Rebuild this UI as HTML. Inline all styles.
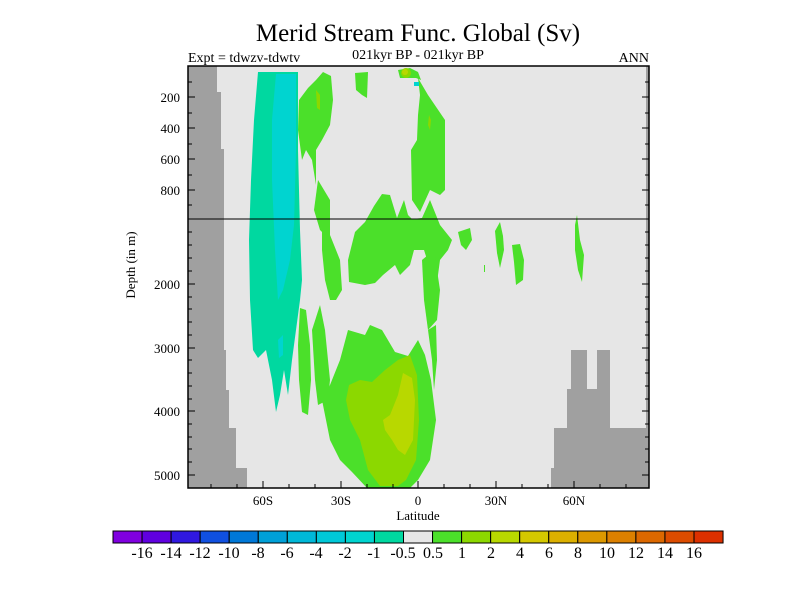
<!DOCTYPE html>
<html><head><meta charset="utf-8"><style>
html,body{margin:0;padding:0;background:#fff;}
svg{display:block;font-family:"Liberation Serif",serif;}
</style></head><body>
<svg width="800" height="600" viewBox="0 0 800 600" xmlns="http://www.w3.org/2000/svg">
<rect width="800" height="600" fill="#fff"/>
<text x="418" y="41" font-size="25" text-anchor="middle">Merid Stream Func. Global (Sv)</text>
<text x="188" y="62" font-size="14">Expt = tdwzv-tdwtv</text>
<text x="418" y="59" font-size="14" text-anchor="middle">021kyr BP - 021kyr BP</text>
<text x="649" y="62" font-size="14" text-anchor="end">ANN</text>
<rect x="188" y="66" width="461" height="422" fill="#e6e6e6"/>
<polygon fill="#a0a0a0" points="188,66 217,66 217,92 221,92 221,149 224,149 224,350 226,350 226,390 229,390 229,428 236,428 236,468 247,468 247,488 188,488"/>
<polygon fill="#a0a0a0" points="551,488 551,468 554,468 554,428 567,428 567,389 571,389 571,350 587,350 587,389 597,389 597,350 610,350 610,428 646,428 646,66 649,66 649,488"/>
<polygon fill="#00d8a0" points="258,72 298,72 298,150 300,230 302,280 300,300 296,330 292,360 288,395 284,370 280,395 276,412 272,380 266,350 258,358 253,350 250,300 249,240 251,180 254,120"/>
<polygon fill="#00d4d0" points="276,74 296,74 296,150 294,225 290,260 283,290 278,300 275,250 272,180 272,120"/>
<polygon fill="#00d4d0" points="278,340 283,335 283,355 279,358"/>
<g fill="#4be02a">
<polygon points="323,72 331,76 333,100 330,125 322,140 316,150 316,185 312,160 306,150 302,160 298,130 299,100 308,88 316,80"/>
<polygon points="355,73 368,72 367,98 362,95 356,90"/>
<polygon points="398,70 410,68 418,72 421,80 416,78 408,78 400,78"/>
<polygon points="418,78 428,95 445,120 445,190 440,195 430,190 420,212 412,200 411,150 417,140 418,115 420,95"/>
<polygon points="355,232 365,222 374,206 382,194 390,195 397,218 404,200 408,215 412,219 422,218 430,200 440,225 452,240 448,250 440,260 436,290 432,275 424,250 414,250 410,265 400,275 395,265 383,275 375,283 365,285 349,282 348,260"/>
<polygon points="422,260 434,250 440,290 437,320 428,330 424,300"/>
<polygon points="318,180 330,200 330,240 320,230 314,210"/>
<polygon points="322,215 326,210 330,235 340,260 342,290 336,300 330,300 325,280 322,250"/>
<polygon points="458,232 470,228 472,240 466,250 461,245"/>
<polygon points="495,231 500,222 503,236 504,250 500,268 497,253"/>
<polygon points="512,245 520,244 524,260 523,280 516,285 514,262"/>
<polygon points="575,225 577,215 580,240 584,255 582,282 578,270 575,250"/>
<polygon points="484,265 485,265 485,272 484,272"/>
<polygon points="300,308 306,310 310,345 311,380 308,415 302,412 299,380 298,345"/>
<polygon points="312,330 320,305 325,330 330,380 328,400 318,405 315,380"/>
<polygon points="348,330 365,335 370,325 382,330 395,352 408,356 418,340 425,355 431,380 436,420 430,460 418,480 410,488 367,488 352,472 340,460 330,440 326,420 322,400 330,385 340,360"/>
<polygon points="428,330 436,325 437,360 434,390 432,360"/>
</g>
<g fill="#8cd800">
<polygon points="349,385 360,380 372,382 385,370 398,360 410,355 417,375 419,420 416,460 406,480 398,486 380,486 368,470 360,440 350,420 346,400"/>
<circle cx="406" cy="73" r="5"/>
<polygon points="316,90 320,95 320,110 317,108"/>
<polygon points="429,115 431,120 430,130 428,125"/>
</g>
<g fill="#b8d800">
<polygon points="403,373 412,378 415,400 413,440 405,455 398,450 392,440 385,430 383,420 390,415 398,395"/>
<circle cx="405" cy="72" r="3"/>
</g>
<rect x="414" y="82" width="5" height="4" fill="#00d4d0"/>
<line x1="188" y1="219" x2="649" y2="219" stroke="#000" stroke-width="1"/>
<rect x="188" y="66" width="461" height="422" fill="none" stroke="#000" stroke-width="1.5"/>
<g stroke="#000" stroke-width="1">
<path d="M263,488v-7M341,488v-7M418,488v-7M496,488v-7M574,488v-7"/>
<path d="M211,488v-4M237,488v-4M289,488v-4M315,488v-4M367,488v-4M393,488v-4M444,488v-4M470,488v-4M522,488v-4M548,488v-4M600,488v-4M626,488v-4"/>
<path d="M188,97h7M188,128h7M188,159h7M188,190h7M188,219h7M188,284h7M188,348h7M188,411h7M188,475h7"/>
<path d="M649,97h-7M649,128h-7M649,159h-7M649,190h-7M649,219h-7M649,284h-7M649,348h-7M649,411h-7M649,475h-7"/>
<path d="M188,82h4M188,113h4M188,144h4M188,175h4M188,205h4M188,232h4M188,245h4M188,258h4M188,271h4M188,297h4M188,309h4M188,322h4M188,335h4M188,360h4M188,373h4M188,386h4M188,399h4M188,424h4M188,437h4M188,449h4M188,462h4"/>
<path d="M649,82h-4M649,113h-4M649,144h-4M649,175h-4M649,205h-4M649,232h-4M649,245h-4M649,258h-4M649,271h-4M649,297h-4M649,309h-4M649,322h-4M649,335h-4M649,360h-4M649,373h-4M649,386h-4M649,399h-4M649,424h-4M649,437h-4M649,449h-4M649,462h-4"/>
</g>
<g font-size="13" text-anchor="end">
<text x="180" y="102">200</text><text x="180" y="133">400</text><text x="180" y="164">600</text><text x="180" y="195">800</text>
<text x="180" y="289">2000</text><text x="180" y="353">3000</text><text x="180" y="416">4000</text><text x="180" y="480">5000</text>
</g>
<g font-size="13" text-anchor="middle">
<text x="263" y="505">60S</text><text x="341" y="505">30S</text><text x="418" y="505">0</text><text x="496" y="505">30N</text><text x="574" y="505">60N</text>
<text x="418" y="520">Latitude</text>
</g>
<text transform="translate(135,265) rotate(-90)" font-size="13" text-anchor="middle">Depth (in m)</text>
<g stroke="#000" stroke-width="1">
<rect x="113.0" y="531" width="29.05" height="12" fill="#8000e0"/>
<rect x="142.05" y="531" width="29.05" height="12" fill="#6000e0"/>
<rect x="171.1" y="531" width="29.05" height="12" fill="#3018e0"/>
<rect x="200.15" y="531" width="29.05" height="12" fill="#1050e0"/>
<rect x="229.2" y="531" width="29.05" height="12" fill="#0078d8"/>
<rect x="258.25" y="531" width="29.05" height="12" fill="#00a0d8"/>
<rect x="287.3" y="531" width="29.05" height="12" fill="#00b8d8"/>
<rect x="316.35" y="531" width="29.05" height="12" fill="#00c8d8"/>
<rect x="345.4" y="531" width="29.05" height="12" fill="#00d4d0"/>
<rect x="374.45" y="531" width="29.05" height="12" fill="#00d8a0"/>
<rect x="403.5" y="531" width="29.05" height="12" fill="#e6e6e6"/>
<rect x="432.55" y="531" width="29.05" height="12" fill="#4be02a"/>
<rect x="461.6" y="531" width="29.05" height="12" fill="#8cd800"/>
<rect x="490.65" y="531" width="29.05" height="12" fill="#b8d800"/>
<rect x="519.7" y="531" width="29.05" height="12" fill="#d4c800"/>
<rect x="548.75" y="531" width="29.05" height="12" fill="#dcb000"/>
<rect x="577.8" y="531" width="29.05" height="12" fill="#dc9800"/>
<rect x="606.85" y="531" width="29.05" height="12" fill="#dc8000"/>
<rect x="635.9" y="531" width="29.05" height="12" fill="#dc6800"/>
<rect x="664.95" y="531" width="29.05" height="12" fill="#dc4c00"/>
<rect x="694.0" y="531" width="29.05" height="12" fill="#dc3000"/>
</g>
<g font-size="16" text-anchor="middle">
<text x="142" y="558">-16</text><text x="171" y="558">-14</text><text x="200" y="558">-12</text><text x="229" y="558">-10</text>
<text x="258" y="558">-8</text><text x="287" y="558">-6</text><text x="316" y="558">-4</text><text x="345" y="558">-2</text>
<text x="374" y="558">-1</text><text x="403" y="558">-0.5</text><text x="433" y="558">0.5</text><text x="462" y="558">1</text>
<text x="491" y="558">2</text><text x="520" y="558">4</text><text x="549" y="558">6</text><text x="578" y="558">8</text>
<text x="607" y="558">10</text><text x="636" y="558">12</text><text x="665" y="558">14</text><text x="694" y="558">16</text>
</g>
</svg>
</body></html>
